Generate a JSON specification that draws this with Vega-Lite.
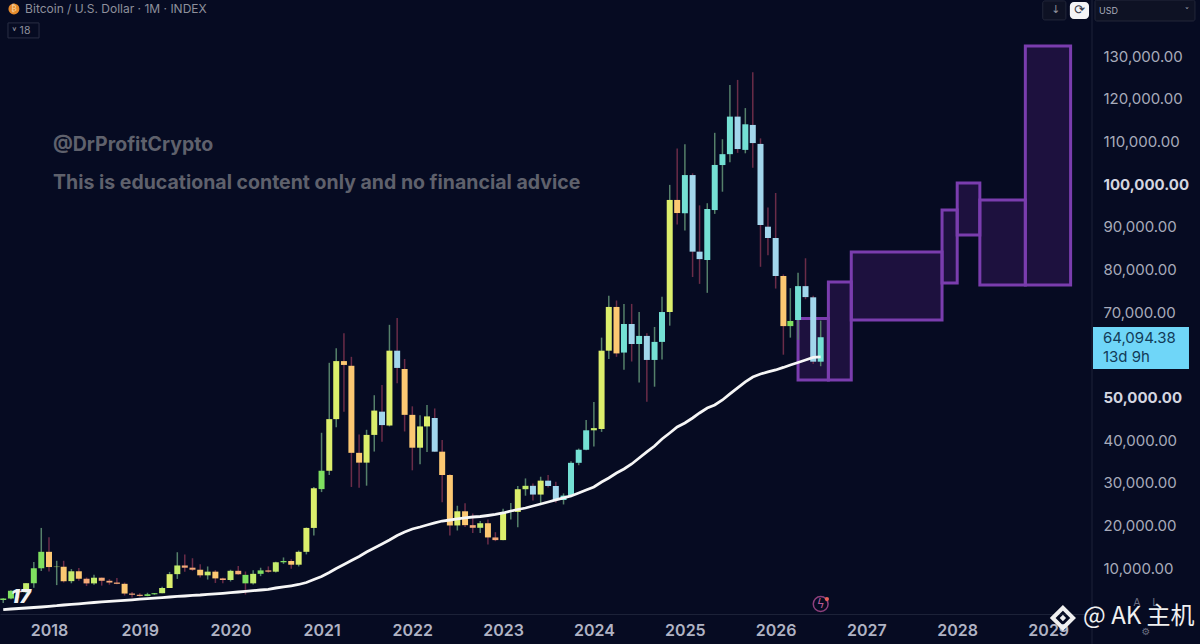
{
  "$schema": "https://vega.github.io/schema/vega-lite/v6.json",
  "width": 1092,
  "height": 614,
  "autosize": {"type": "none"},
  "padding": {"left": 0, "top": 0, "right": 108, "bottom": 30},
  "background": "#060b22",
  "config": {"view": {"stroke": null}, "font": "Inter"},
  "datasets": {
    "candles": [
      {"date":"2017-07-01","open":2480,"high":2900,"low":1830,"close":2875,"ema":230,"tone":"g","wick":"up"},
      {"date":"2017-08-01","open":2875,"high":4770,"low":2700,"close":4700,"ema":400,"tone":"g","wick":"up"},
      {"date":"2017-09-01","open":4700,"high":5000,"low":2970,"close":4340,"ema":520,"tone":"s","wick":"down"},
      {"date":"2017-10-01","open":4340,"high":6470,"low":4100,"close":6450,"ema":630,"tone":"l","wick":"up"},
      {"date":"2017-11-01","open":6450,"high":11400,"low":5400,"close":9950,"ema":750,"tone":"g","wick":"up"},
      {"date":"2017-12-01","open":9950,"high":19400,"low":9300,"close":13800,"ema":870,"tone":"g","wick":"up"},
      {"date":"2018-01-01","open":13800,"high":17200,"low":9200,"close":10230,"ema":1030,"tone":"o","wick":"down"},
      {"date":"2018-02-01","open":10230,"high":11700,"low":6000,"close":10320,"ema":1170,"tone":"l","wick":"up"},
      {"date":"2018-03-01","open":10320,"high":11700,"low":6600,"close":6930,"ema":1340,"tone":"o","wick":"down"},
      {"date":"2018-04-01","open":6930,"high":9760,"low":6430,"close":9240,"ema":1480,"tone":"l","wick":"up"},
      {"date":"2018-05-01","open":9240,"high":10000,"low":7030,"close":7490,"ema":1620,"tone":"o","wick":"down"},
      {"date":"2018-06-01","open":7490,"high":7780,"low":5780,"close":6400,"ema":1800,"tone":"s","wick":"down"},
      {"date":"2018-07-01","open":6400,"high":8450,"low":6070,"close":7730,"ema":1920,"tone":"l","wick":"up"},
      {"date":"2018-08-01","open":7730,"high":7760,"low":5880,"close":7010,"ema":2060,"tone":"s","wick":"down"},
      {"date":"2018-09-01","open":7010,"high":7400,"low":6100,"close":6600,"ema":2200,"tone":"s","wick":"down"},
      {"date":"2018-10-01","open":6600,"high":7680,"low":6200,"close":6300,"ema":2320,"tone":"s","wick":"down"},
      {"date":"2018-11-01","open":6300,"high":6600,"low":3560,"close":4020,"ema":2440,"tone":"o","wick":"down"},
      {"date":"2018-12-01","open":4020,"high":4380,"low":3120,"close":3740,"ema":2560,"tone":"s","wick":"down"},
      {"date":"2019-01-01","open":3740,"high":4070,"low":3350,"close":3460,"ema":2700,"tone":"s","wick":"down"},
      {"date":"2019-02-01","open":3460,"high":4200,"low":3390,"close":3850,"ema":2810,"tone":"g","wick":"up"},
      {"date":"2019-03-01","open":3850,"high":4150,"low":3730,"close":4100,"ema":2930,"tone":"g","wick":"up"},
      {"date":"2019-04-01","open":4100,"high":5640,"low":4100,"close":5320,"ema":3070,"tone":"l","wick":"up"},
      {"date":"2019-05-01","open":5320,"high":9090,"low":5320,"close":8570,"ema":3210,"tone":"y","wick":"up"},
      {"date":"2019-06-01","open":8570,"high":13700,"low":7450,"close":10600,"ema":3350,"tone":"l","wick":"up"},
      {"date":"2019-07-01","open":10600,"high":13150,"low":9100,"close":10080,"ema":3450,"tone":"s","wick":"down"},
      {"date":"2019-08-01","open":10080,"high":12300,"low":9350,"close":9600,"ema":3590,"tone":"s","wick":"down"},
      {"date":"2019-09-01","open":9600,"high":10900,"low":7800,"close":8290,"ema":3680,"tone":"o","wick":"down"},
      {"date":"2019-10-01","open":8290,"high":10370,"low":7300,"close":9150,"ema":3820,"tone":"l","wick":"up"},
      {"date":"2019-11-01","open":9150,"high":9500,"low":6500,"close":7570,"ema":3960,"tone":"o","wick":"down"},
      {"date":"2019-12-01","open":7570,"high":7750,"low":6430,"close":7190,"ema":4080,"tone":"s","wick":"down"},
      {"date":"2020-01-01","open":7190,"high":9600,"low":6850,"close":9350,"ema":4220,"tone":"l","wick":"up"},
      {"date":"2020-02-01","open":9350,"high":10500,"low":8450,"close":8540,"ema":4380,"tone":"s","wick":"down"},
      {"date":"2020-03-01","open":8400,"high":9190,"low":3800,"close":6410,"ema":4550,"tone":"g","wick":"down"},
      {"date":"2020-04-01","open":6410,"high":9480,"low":6160,"close":8640,"ema":4690,"tone":"l","wick":"up"},
      {"date":"2020-05-01","open":8640,"high":10070,"low":8100,"close":9450,"ema":4850,"tone":"g","wick":"up"},
      {"date":"2020-06-01","open":9450,"high":10390,"low":8900,"close":9140,"ema":5020,"tone":"s","wick":"down"},
      {"date":"2020-07-01","open":9140,"high":11450,"low":8950,"close":11350,"ema":5320,"tone":"l","wick":"up"},
      {"date":"2020-08-01","open":11350,"high":12480,"low":10970,"close":11650,"ema":5560,"tone":"g","wick":"up"},
      {"date":"2020-09-01","open":11650,"high":12050,"low":9820,"close":10780,"ema":5840,"tone":"o","wick":"down"},
      {"date":"2020-10-01","open":10780,"high":14100,"low":10370,"close":13800,"ema":6140,"tone":"y","wick":"up"},
      {"date":"2020-11-01","open":13800,"high":19500,"low":13200,"close":19400,"ema":6610,"tone":"y","wick":"up"},
      {"date":"2020-12-01","open":19400,"high":29000,"low":17600,"close":28700,"ema":7310,"tone":"y","wick":"up"},
      {"date":"2021-01-01","open":28500,"high":41700,"low":27800,"close":32800,"ema":8020,"tone":"g","wick":"up"},
      {"date":"2021-02-01","open":32800,"high":58100,"low":31800,"close":44900,"ema":8950,"tone":"y","wick":"up"},
      {"date":"2021-03-01","open":44900,"high":61500,"low":43000,"close":58500,"ema":9890,"tone":"y","wick":"up"},
      {"date":"2021-04-01","open":58500,"high":65000,"low":46600,"close":57600,"ema":10830,"tone":"o","wick":"down"},
      {"date":"2021-05-01","open":57400,"high":59500,"low":29000,"close":37000,"ema":11770,"tone":"o","wick":"down"},
      {"date":"2021-06-01","open":37000,"high":41300,"low":28800,"close":34700,"ema":12700,"tone":"o","wick":"down"},
      {"date":"2021-07-01","open":34700,"high":42400,"low":29300,"close":41200,"ema":13760,"tone":"y","wick":"up"},
      {"date":"2021-08-01","open":41200,"high":50500,"low":37300,"close":46900,"ema":14700,"tone":"y","wick":"up"},
      {"date":"2021-09-01","open":46650,"high":52900,"low":39600,"close":43500,"ema":15630,"tone":"b","wick":"down"},
      {"date":"2021-10-01","open":43400,"high":67000,"low":43200,"close":60940,"ema":16570,"tone":"y","wick":"up"},
      {"date":"2021-11-01","open":60940,"high":68600,"low":53300,"close":56900,"ema":17630,"tone":"b","wick":"down"},
      {"date":"2021-12-01","open":56650,"high":59000,"low":42000,"close":45900,"ema":18450,"tone":"o","wick":"down"},
      {"date":"2022-01-01","open":45900,"high":47900,"low":32900,"close":38200,"ema":19150,"tone":"o","wick":"down"},
      {"date":"2022-02-01","open":38200,"high":45800,"low":34300,"close":43190,"ema":19620,"tone":"y","wick":"up"},
      {"date":"2022-03-01","open":43190,"high":48200,"low":37200,"close":45540,"ema":20090,"tone":"y","wick":"up"},
      {"date":"2022-04-01","open":45160,"high":47400,"low":37200,"close":37270,"ema":20560,"tone":"b","wick":"down"},
      {"date":"2022-05-01","open":37270,"high":40000,"low":25400,"close":31800,"ema":21020,"tone":"o","wick":"down"},
      {"date":"2022-06-01","open":31800,"high":32000,"low":17600,"close":19980,"ema":21260,"tone":"o","wick":"down"},
      {"date":"2022-07-01","open":19980,"high":24600,"low":18800,"close":23300,"ema":21500,"tone":"y","wick":"up"},
      {"date":"2022-08-01","open":23300,"high":25200,"low":19600,"close":20050,"ema":21730,"tone":"o","wick":"down"},
      {"date":"2022-09-01","open":20050,"high":22800,"low":18200,"close":19430,"ema":21960,"tone":"s","wick":"down"},
      {"date":"2022-10-01","open":19430,"high":21000,"low":18200,"close":20500,"ema":22080,"tone":"l","wick":"up"},
      {"date":"2022-11-01","open":20500,"high":21400,"low":15500,"close":17170,"ema":22310,"tone":"o","wick":"down"},
      {"date":"2022-12-01","open":17170,"high":18400,"low":16300,"close":16550,"ema":22550,"tone":"s","wick":"down"},
      {"date":"2023-01-01","open":16550,"high":23900,"low":16500,"close":23130,"ema":22900,"tone":"y","wick":"up"},
      {"date":"2023-02-01","open":23130,"high":25250,"low":21400,"close":23300,"ema":23370,"tone":"y","wick":"up"},
      {"date":"2023-03-01","open":23150,"high":29200,"low":19550,"close":28470,"ema":23720,"tone":"y","wick":"up"},
      {"date":"2023-04-01","open":28470,"high":31000,"low":26950,"close":29270,"ema":24070,"tone":"l","wick":"up"},
      {"date":"2023-05-01","open":29270,"high":29800,"low":25800,"close":27220,"ema":24540,"tone":"b","wick":"down"},
      {"date":"2023-06-01","open":27220,"high":31400,"low":24800,"close":30480,"ema":25010,"tone":"y","wick":"up"},
      {"date":"2023-07-01","open":30480,"high":31800,"low":28900,"close":29230,"ema":25480,"tone":"b","wick":"down"},
      {"date":"2023-08-01","open":29230,"high":30200,"low":25300,"close":25940,"ema":25950,"tone":"b","wick":"down"},
      {"date":"2023-09-01","open":25940,"high":27500,"low":24900,"close":26970,"ema":26420,"tone":"c","wick":"up"},
      {"date":"2023-10-01","open":26970,"high":35000,"low":26600,"close":34660,"ema":26890,"tone":"c","wick":"up"},
      {"date":"2023-11-01","open":34660,"high":38000,"low":34100,"close":37720,"ema":27590,"tone":"c","wick":"up"},
      {"date":"2023-12-01","open":37720,"high":44700,"low":37600,"close":42280,"ema":28290,"tone":"c","wick":"up"},
      {"date":"2024-01-01","open":42280,"high":48900,"low":38500,"close":42800,"ema":29000,"tone":"l","wick":"up"},
      {"date":"2024-02-01","open":42580,"high":64000,"low":41900,"close":60940,"ema":30170,"tone":"y","wick":"up"},
      {"date":"2024-03-01","open":60940,"high":73800,"low":59000,"close":71190,"ema":31100,"tone":"y","wick":"up"},
      {"date":"2024-04-01","open":71190,"high":72700,"low":59500,"close":60300,"ema":32280,"tone":"o","wick":"down"},
      {"date":"2024-05-01","open":60500,"high":71900,"low":56500,"close":67200,"ema":33210,"tone":"c","wick":"up"},
      {"date":"2024-06-01","open":67200,"high":71900,"low":58400,"close":62500,"ema":34390,"tone":"b","wick":"down"},
      {"date":"2024-07-01","open":62500,"high":70000,"low":53500,"close":64400,"ema":35790,"tone":"c","wick":"up"},
      {"date":"2024-08-01","open":64400,"high":65000,"low":49000,"close":58770,"ema":37200,"tone":"b","wick":"down"},
      {"date":"2024-09-01","open":58770,"high":66500,"low":52500,"close":63000,"ema":38600,"tone":"c","wick":"up"},
      {"date":"2024-10-01","open":63000,"high":73600,"low":58900,"close":70000,"ema":40250,"tone":"c","wick":"up"},
      {"date":"2024-11-01","open":70000,"high":99800,"low":66800,"close":96270,"ema":41650,"tone":"y","wick":"up"},
      {"date":"2024-12-01","open":96270,"high":108300,"low":90500,"close":93200,"ema":43060,"tone":"o","wick":"down"},
      {"date":"2025-01-01","open":93150,"high":109300,"low":89100,"close":102100,"ema":44000,"tone":"c","wick":"up"},
      {"date":"2025-02-01","open":102100,"high":102500,"low":78200,"close":84150,"ema":45170,"tone":"b","wick":"down"},
      {"date":"2025-03-01","open":84150,"high":95000,"low":76600,"close":82400,"ema":46340,"tone":"b","wick":"down"},
      {"date":"2025-04-01","open":82200,"high":95500,"low":74500,"close":94150,"ema":47510,"tone":"c","wick":"up"},
      {"date":"2025-05-01","open":93900,"high":112000,"low":93000,"close":104470,"ema":48210,"tone":"c","wick":"up"},
      {"date":"2025-06-01","open":104450,"high":110500,"low":98200,"close":107000,"ema":49390,"tone":"c","wick":"up"},
      {"date":"2025-07-01","open":107000,"high":123200,"low":105100,"close":115800,"ema":50800,"tone":"c","wick":"up"},
      {"date":"2025-08-01","open":115800,"high":124400,"low":107300,"close":108200,"ema":52200,"tone":"b","wick":"down"},
      {"date":"2025-09-01","open":108000,"high":117800,"low":107200,"close":114000,"ema":53610,"tone":"c","wick":"up"},
      {"date":"2025-10-01","open":113850,"high":126200,"low":103800,"close":109600,"ema":54780,"tone":"b","wick":"down"},
      {"date":"2025-11-01","open":109400,"high":110700,"low":80600,"close":90400,"ema":55480,"tone":"b","wick":"down"},
      {"date":"2025-12-01","open":90000,"high":94500,"low":83300,"close":87350,"ema":55950,"tone":"b","wick":"down"},
      {"date":"2026-01-01","open":87350,"high":97900,"low":75500,"close":78450,"ema":56420,"tone":"b","wick":"down"},
      {"date":"2026-02-01","open":78450,"high":78800,"low":60000,"close":66700,"ema":57010,"tone":"o","wick":"down"},
      {"date":"2026-03-01","open":66700,"high":75600,"low":64000,"close":67900,"ema":57590,"tone":"g","wick":"up"},
      {"date":"2026-04-01","open":68130,"high":79200,"low":63500,"close":76070,"ema":58180,"tone":"c","wick":"up"},
      {"date":"2026-05-01","open":76070,"high":82600,"low":73000,"close":73500,"ema":58760,"tone":"b","wick":"down"},
      {"date":"2026-06-01","open":73450,"high":73800,"low":57800,"close":58360,"ema":59350,"tone":"b","wick":"down"},
      {"date":"2026-07-01","open":58360,"high":68000,"low":57300,"close":64094,"ema":59470,"tone":"c","wick":"up"}
    ],
    "boxes": [
      {"start":"2026-04-01","end":"2026-08-01","top":68490,"bottom":54080},
      {"start":"2026-08-01","end":"2026-11-01","top":77050,"bottom":54080},
      {"start":"2026-11-01","end":"2027-11-01","top":84080,"bottom":68140},
      {"start":"2027-11-01","end":"2028-01-01","top":93920,"bottom":76810},
      {"start":"2028-01-01","end":"2028-04-01","top":100250,"bottom":88060},
      {"start":"2028-04-01","end":"2028-10-01","top":96270,"bottom":76340},
      {"start":"2028-10-01","end":"2029-04-01","top":132370,"bottom":76340}
    ]
  },
  "layer": [
    {
      "data": {"values": [{"date":"2029-06-26","price":-7800,"price2":143130}]},
      "mark": {"type": "rule", "color": "#1c2238", "strokeWidth": 1},
      "encoding": {
        "x": {
          "field": "date",
          "type": "temporal",
          "title": null,
          "scale": {"type": "utc", "nice": false, "padding": 0, "domain": [{"year":2017,"month":6,"date":18,"utc":true},{"year":2029,"month":6,"date":26,"utc":true}]},
          "axis": {"tickCount": "year", "format": "%Y", "grid": false, "ticks": false, "domainColor": "#1c2238", "labelColor": "#b0b3c4", "labelFont": "Inter", "labelFontSize": 16, "labelFontWeight": 600, "labelPadding": 8, "labelFlush": false, "labelBound": false, "labelOverlap": false}
        },
        "y": {
          "field": "price",
          "type": "quantitative",
          "title": null,
          "scale": {"nice": false, "zero": false, "padding": 0, "domain": [-773, 143130]},
          "axis": {"orient": "right", "values": [10000,20000,30000,40000,50000,70000,80000,90000,100000,110000,120000,130000], "format": ",.2f", "grid": false, "ticks": false, "domain": false, "labelAlign": "left", "labelPadding": 11, "labelColor": {"expr": "datum.value == 100000 || datum.value == 50000 ? '#d4d6e0' : '#a8abbb'"}, "labelFont": "Inter", "labelFontSize": 15, "labelFontWeight": {"expr": "datum.value == 100000 || datum.value == 50000 ? 700 : 400"}, "labelBound": false, "labelOverlap": false}
        },
        "y2": {"field": "price2"}
      }
    },
    {
      "data": {"name": "boxes"},
      "mark": {"type": "rect", "fill": "#7b2fb0", "fillOpacity": 0.2, "stroke": "#7a3dae", "strokeWidth": 3},
      "encoding": {
        "x": {"field": "start", "type": "temporal", "title": null},
        "x2": {"field": "end"},
        "y": {"field": "top", "type": "quantitative", "title": null},
        "y2": {"field": "bottom"}
      }
    },
    {
      "data": {"name": "candles"},
      "mark": {"type": "rule", "strokeWidth": 1.5},
      "encoding": {
        "x": {"field": "date", "type": "temporal", "title": null},
        "y": {"field": "high", "type": "quantitative", "title": null},
        "y2": {"field": "low"},
        "color": {"field": "wick", "type": "nominal", "legend": null, "scale": {"domain": ["up","down"], "range": ["#55806a","#6a2c48"]}}
      }
    },
    {
      "data": {"name": "candles"},
      "mark": {"type": "bar", "size": 6},
      "encoding": {
        "x": {"field": "date", "type": "temporal", "title": null},
        "y": {"field": "open", "type": "quantitative", "title": null},
        "y2": {"field": "close"},
        "color": {"field": "tone", "type": "nominal", "legend": null, "scale": {"domain": ["g","l","y","o","s","c","b"], "range": ["#7fe060","#c4ec6c","#dcee6c","#fcc872","#f4aa78","#74e0d4","#a2d6ec"]}}
      }
    },
    {
      "data": {"name": "candles"},
      "mark": {"type": "line", "color": "#f6f6f6", "strokeWidth": 2.8},
      "encoding": {
        "x": {"field": "date", "type": "temporal", "title": null},
        "y": {"field": "ema", "type": "quantitative", "title": null}
      }
    },
    {
      "data": {"values": [
        {"date":"2018-01-17","price":109160,"label":"@DrProfitCrypto"},
        {"date":"2018-01-17","price":100250,"label":"This is educational content only and no financial advice"}
      ]},
      "mark": {"type": "text", "align": "left", "baseline": "middle", "font": "Inter", "fontSize": 19.5, "fontWeight": 700, "color": "#5f616c"},
      "encoding": {
        "x": {"field": "date", "type": "temporal", "title": null},
        "y": {"field": "price", "type": "quantitative", "title": null},
        "text": {"field": "label"}
      }
    },
    {
      "data": {"values": [{"date":"2017-08-13","price":141040}]},
      "mark": {"type": "point", "filled": true, "size": 120, "color": "#e58a2c", "opacity": 1},
      "encoding": {
        "x": {"field": "date", "type": "temporal", "title": null},
        "y": {"field": "price", "type": "quantitative", "title": null}
      }
    },
    {
      "data": {"values": [{"date":"2017-08-13","price":141040,"label":"₿"}]},
      "mark": {"type": "text", "align": "center", "baseline": "middle", "font": "DejaVu Sans", "fontSize": 8, "color": "#f8d9a8"},
      "encoding": {
        "x": {"field": "date", "type": "temporal", "title": null},
        "y": {"field": "price", "type": "quantitative", "title": null},
        "text": {"field": "label"}
      }
    },
    {
      "data": {"values": [{"date":"2017-09-27","price":141040,"label":"Bitcoin / U.S. Dollar · 1M · INDEX"}]},
      "mark": {"type": "text", "align": "left", "baseline": "middle", "font": "Inter", "fontSize": 12, "color": "#8e909c"},
      "encoding": {
        "x": {"field": "date", "type": "temporal", "title": null},
        "y": {"field": "price", "type": "quantitative", "title": null},
        "text": {"field": "label"}
      }
    },
    {
      "data": {"values": [{"start":"2017-07-20","end":"2017-11-22","top":137760,"bottom":134240}]},
      "mark": {"type": "rect", "fill": "#060b22", "stroke": "#2a2e44", "strokeWidth": 1},
      "encoding": {
        "x": {"field": "start", "type": "temporal", "title": null},
        "x2": {"field": "end"},
        "y": {"field": "top", "type": "quantitative", "title": null},
        "y2": {"field": "bottom"}
      }
    },
    {
      "data": {"values": [{"date":"2017-08-05","price":135880,"label":"˅ 18"}]},
      "mark": {"type": "text", "align": "left", "baseline": "middle", "font": "Inter", "fontSize": 10.5, "color": "#8e909c"},
      "encoding": {
        "x": {"field": "date", "type": "temporal", "title": null},
        "y": {"field": "price", "type": "quantitative", "title": null},
        "text": {"field": "label"}
      }
    },
    {
      "data": {"values": [{"date":"2017-09-10","price":3210,"label":"17"}]},
      "mark": {"type": "text", "align": "center", "baseline": "middle", "font": "Inter", "fontSize": 19, "fontWeight": 900, "fontStyle": "italic", "color": "#f2f2f2"},
      "encoding": {
        "x": {"field": "date", "type": "temporal", "title": null},
        "y": {"field": "price", "type": "quantitative", "title": null},
        "text": {"field": "label"}
      }
    },
    {
      "data": {"values": [{"start":"2029-06-30","end":"2030-07-21","top":66500,"bottom":56650}]},
      "mark": {"type": "rect", "fill": "#6fd6f8"},
      "encoding": {
        "x": {"field": "start", "type": "temporal", "title": null},
        "x2": {"field": "end"},
        "y": {"field": "top", "type": "quantitative", "title": null},
        "y2": {"field": "bottom"}
      }
    },
    {
      "data": {"values": [
        {"date":"2029-08-09","price":63920,"label":"64,094.38"},
        {"date":"2029-08-09","price":59470,"label":"13d 9h"}
      ]},
      "mark": {"type": "text", "align": "left", "baseline": "middle", "font": "Inter", "fontSize": 15, "color": "#123c58"},
      "encoding": {
        "x": {"field": "date", "type": "temporal", "title": null},
        "y": {"field": "price", "type": "quantitative", "title": null},
        "text": {"field": "label"}
      }
    },
    {
      "data": {"values": [
        {"start":"2028-12-10","end":"2029-03-13","top":142914,"bottom":138460},
        {"start":"2029-07-08","end":"2030-08-14","top":143130,"bottom":138210}
      ]},
      "mark": {"type": "rect", "fill": "#0e1224", "stroke": "#23273a", "cornerRadius": 2},
      "encoding": {
        "x": {"field": "start", "type": "temporal", "title": null},
        "x2": {"field": "end"},
        "y": {"field": "top", "type": "quantitative", "title": null},
        "y2": {"field": "bottom"}
      }
    },
    {
      "data": {"values": [{"start":"2029-03-29","end":"2029-06-14","top":142680,"bottom":138690}]},
      "mark": {"type": "rect", "fill": "#f4f4f6", "cornerRadius": 4},
      "encoding": {
        "x": {"field": "start", "type": "temporal", "title": null},
        "x2": {"field": "end"},
        "y": {"field": "top", "type": "quantitative", "title": null},
        "y2": {"field": "bottom"}
      }
    },
    {
      "data": {"values": [{"date":"2029-05-07","price":140680,"label":"⟳"}]},
      "mark": {"type": "text", "align": "center", "baseline": "middle", "font": "DejaVu Sans", "fontSize": 13, "color": "#333645"},
      "encoding": {
        "x": {"field": "date", "type": "temporal", "title": null},
        "y": {"field": "price", "type": "quantitative", "title": null},
        "text": {"field": "label"}
      }
    },
    {
      "data": {"values": [{"date":"2029-02-01","price":140680,"label":"↓"}]},
      "mark": {"type": "text", "align": "center", "baseline": "middle", "font": "DejaVu Sans", "fontSize": 11, "color": "#8e909c"},
      "encoding": {
        "x": {"field": "date", "type": "temporal", "title": null},
        "y": {"field": "price", "type": "quantitative", "title": null},
        "text": {"field": "label"}
      }
    },
    {
      "data": {"values": [{"date":"2029-07-24","price":140570,"label":"USD"}]},
      "mark": {"type": "text", "align": "left", "baseline": "middle", "font": "Inter", "fontSize": 9, "color": "#a8abbb"},
      "encoding": {
        "x": {"field": "date", "type": "temporal", "title": null},
        "y": {"field": "price", "type": "quantitative", "title": null},
        "text": {"field": "label"}
      }
    },
    {
      "data": {"values": [{"date":"2030-07-13","price":140570,"label":"˅"}]},
      "mark": {"type": "text", "align": "center", "baseline": "middle", "font": "DejaVu Sans", "fontSize": 9, "color": "#a8abbb"},
      "encoding": {
        "x": {"field": "date", "type": "temporal", "title": null},
        "y": {"field": "price", "type": "quantitative", "title": null},
        "text": {"field": "label"}
      }
    },
    {
      "data": {"values": [{"date":"2026-07-01","price":1570}]},
      "mark": {"type": "point", "filled": false, "size": 220, "color": "#8e3f7c", "strokeWidth": 1.5, "opacity": 1},
      "encoding": {
        "x": {"field": "date", "type": "temporal", "title": null},
        "y": {"field": "price", "type": "quantitative", "title": null}
      }
    },
    {
      "data": {"values": [{"date":"2026-07-01","price":1570,"label":"ϟ"}]},
      "mark": {"type": "text", "align": "center", "baseline": "middle", "font": "DejaVu Sans", "fontSize": 12, "color": "#b85a96"},
      "encoding": {
        "x": {"field": "date", "type": "temporal", "title": null},
        "y": {"field": "price", "type": "quantitative", "title": null},
        "text": {"field": "label"}
      }
    },
    {
      "data": {"values": [{"date":"2026-07-26","price":2740}]},
      "mark": {"type": "point", "filled": true, "size": 18, "color": "#e8605a", "opacity": 1},
      "encoding": {
        "x": {"field": "date", "type": "temporal", "title": null},
        "y": {"field": "price", "type": "quantitative", "title": null}
      }
    },
    {
      "data": {"values": [
        {"date":"2029-12-24","price":1805,"label":"A"},
        {"date":"2030-03-06","price":1805,"label":"L"},
        {"date":"2030-01-29","price":-4990,"label":"⚙"}
      ]},
      "mark": {"type": "text", "align": "center", "baseline": "middle", "font": "DejaVu Sans", "fontSize": 10, "color": "#6a6d80"},
      "encoding": {
        "x": {"field": "date", "type": "temporal", "title": null},
        "y": {"field": "price", "type": "quantitative", "title": null},
        "text": {"field": "label"}
      }
    },
    {
      "data": {"values": [{"date":"2029-03-01","price":-1710}]},
      "mark": {"type": "point", "shape": "diamond", "filled": false, "size": 420, "color": "#f0f0f0", "strokeWidth": 4, "opacity": 1},
      "encoding": {
        "x": {"field": "date", "type": "temporal", "title": null},
        "y": {"field": "price", "type": "quantitative", "title": null}
      }
    },
    {
      "data": {"values": [{"date":"2029-03-01","price":-1710}]},
      "mark": {"type": "point", "shape": "diamond", "filled": true, "size": 40, "color": "#f0f0f0", "opacity": 1},
      "encoding": {
        "x": {"field": "date", "type": "temporal", "title": null},
        "y": {"field": "price", "type": "quantitative", "title": null}
      }
    },
    {
      "data": {"values": [{"date":"2029-05-21","price":-1480,"label":"@ AK 主机"}]},
      "mark": {"type": "text", "align": "left", "baseline": "middle", "font": "Noto Sans CJK SC", "fontSize": 24, "color": "#f0f0f0"},
      "encoding": {
        "x": {"field": "date", "type": "temporal", "title": null},
        "y": {"field": "price", "type": "quantitative", "title": null},
        "text": {"field": "label"}
      }
    }
  ],
  "resolve": {"scale": {"color": "independent"}}
}
